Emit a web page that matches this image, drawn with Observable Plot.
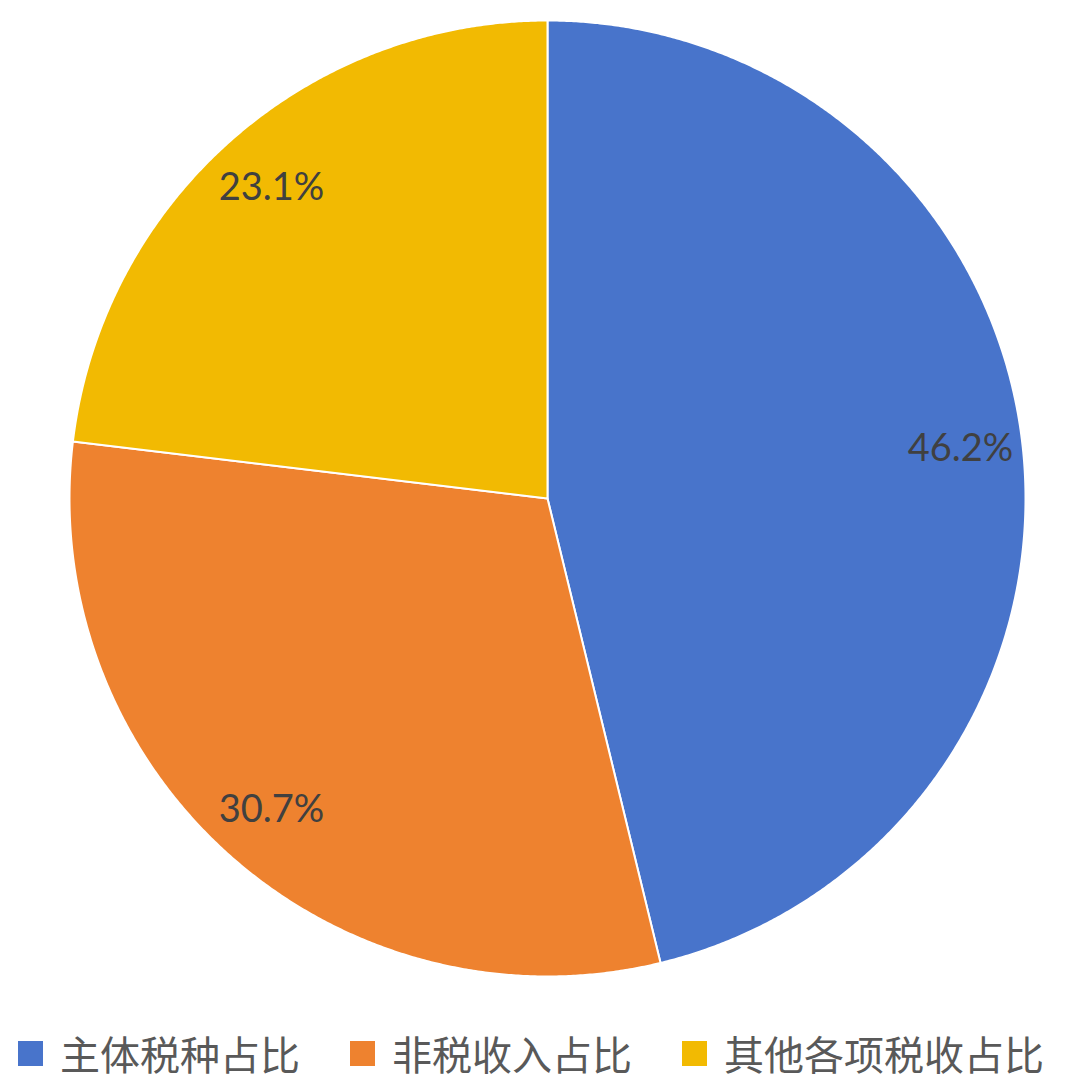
<!DOCTYPE html>
<html><head><meta charset="utf-8">
<script src="https://cdn.jsdelivr.net/npm/d3@7"></script>
<script src="https://cdn.jsdelivr.net/npm/@observablehq/plot@0.6"></script>
<style>
body{margin:0;background:#fff;width:1080px;}
#legend{display:flex;justify-content:space-between;align-items:center;height:60px;margin-top:23px;margin-left:18px;width:1026px;font-family:"Noto Sans CJK SC",sans-serif;font-size:40px;color:#595959;}
.item{display:flex;align-items:center;white-space:nowrap;}
.sw{width:25px;height:25px;margin-right:17px;}
</style>
</head><body>
<div id="chart"></div>
<div id="legend"></div>
<script>
const categories = ["主体税种占比", "非税收入占比", "其他各项税收占比"];
const shares = [46.2, 30.7, 23.1];
const colors = ["#4874CB", "#EE822F", "#F2BA02"];
const labelTexts = ["46.2%", "30.7%", "23.1%"];

const table = categories.map((c, i) => ({category: c, share: shares[i], label: labelTexts[i]}));
const arcs = d3.pie().sort(null).value(d => d.share)(table);

const pt = (a, r) => [r * Math.sin(a), r * Math.cos(a)];
const slices = arcs.map(a => {
  const ring = [[0, 0]];
  const n = Math.max(2, Math.ceil((a.endAngle - a.startAngle) / 0.005));
  for (let k = 0; k <= n; k++) ring.push(pt(a.startAngle + (a.endAngle - a.startAngle) * k / n, 1));
  ring.push([0, 0]);
  return {type: "Feature", properties: {category: a.data.category}, geometry: {type: "Polygon", coordinates: [ring]}};
});
const labelPts = arcs.map(a => {
  const m = (a.startAngle + a.endAngle) / 2;
  const [x, y] = pt(m, 0.87);
  return {x, y, text: a.data.label};
});

const chart = Plot.plot({
  width: 1080,
  height: 1000,
  marginLeft: 69, marginRight: 55, marginTop: 20, marginBottom: 24,
  projection: {type: "reflect-y", domain: {type: "MultiPoint", coordinates: [[-1, -1], [1, 1]]}},
  color: {domain: categories, range: colors},
  style: {background: "#fff", overflow: "visible"},
  marks: [
    Plot.geo(slices, {fill: d => d.properties.category, stroke: "#fff", strokeWidth: 2}),
    Plot.text(labelPts, {x: "x", y: "y", text: "text", fontSize: 38, fill: "#404040", fontFamily: "Lato, 'Open Sans', sans-serif"})
  ]
});
document.getElementById("chart").appendChild(chart);

const legend = document.getElementById("legend");
categories.forEach((c, i) => {
  const item = document.createElement("div");
  item.className = "item";
  const sw = document.createElement("div");
  sw.className = "sw";
  sw.style.background = colors[i];
  const t = document.createElement("span");
  t.textContent = c;
  item.appendChild(sw); item.appendChild(t);
  legend.appendChild(item);
});
</script>
</body></html>
